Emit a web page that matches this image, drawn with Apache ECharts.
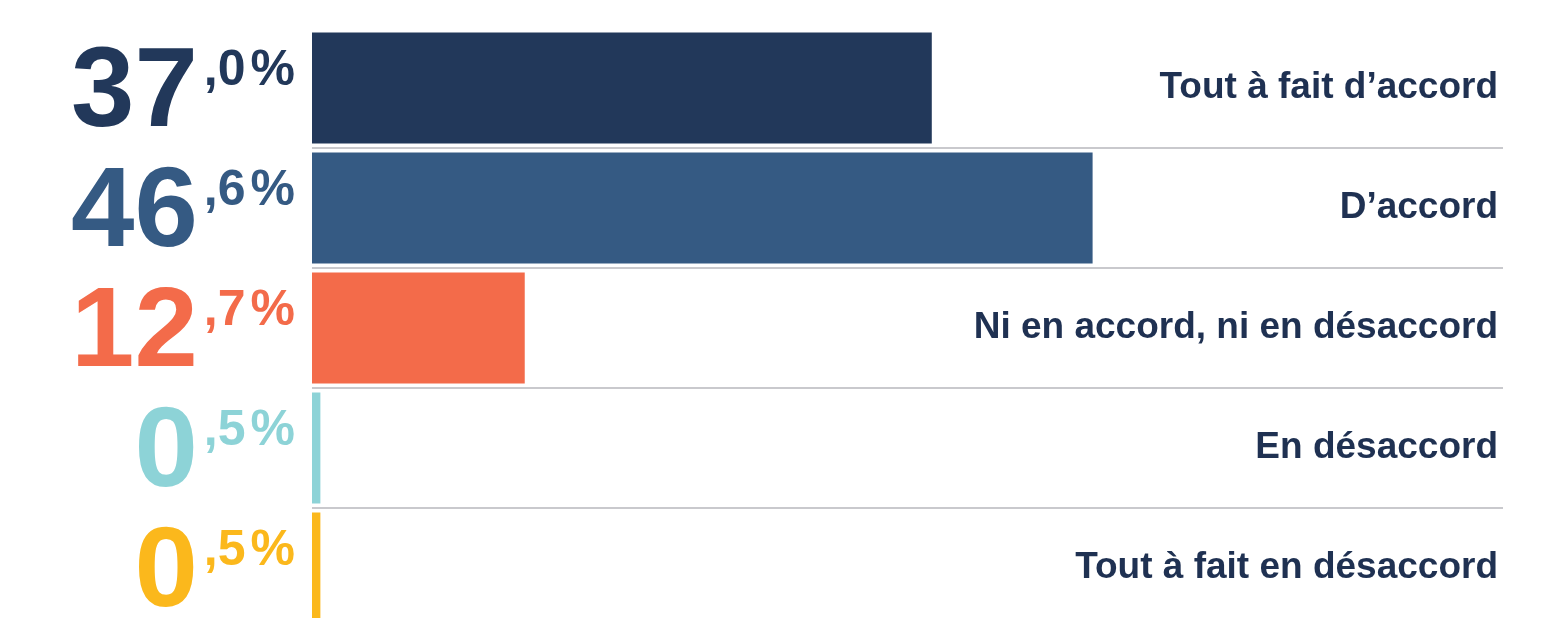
<!DOCTYPE html>
<html>
<head>
<meta charset="utf-8">
<script src="https://cdn.jsdelivr.net/npm/echarts@6/dist/echarts.min.js"></script>
<style>
html, body {
  margin: 0;
  padding: 0;
  background: #ffffff;
}
#chart {
  width: 1557px;
  height: 618px;
}
</style>
</head>
<body>
<div id="chart"></div>
<script>
// réponses, du haut vers le bas
const categories = [
  'Tout à fait d’accord',
  'D’accord',
  'Ni en accord, ni en désaccord',
  'En désaccord',
  'Tout à fait en désaccord'
];
const values = [37.0, 46.6, 12.7, 0.5, 0.5];
const colors = ['#22385a', '#355a83', '#f36b4a', '#8dd3d7', '#fbb81c'];

const font = "'Liberation Sans', Arial, sans-serif";

// styles riches pour le grand nombre + la partie décimale en exposant
const rich = {};
colors.forEach((c, i) => {
  rich['b' + i] = {
    color: c,
    fontFamily: font,
    fontWeight: 'bold',
    fontSize: 114,
    lineHeight: 110,
    padding: [14, 0, 0, 0]
  };
  rich['s' + i] = {
    color: c,
    fontFamily: font,
    fontWeight: 'bold',
    fontSize: 50,
    lineHeight: 62,
    verticalAlign: 'top',
    padding: [13, 0, 0, 6]
  };
  rich['p' + i] = {
    color: c,
    fontFamily: font,
    fontWeight: 'bold',
    fontSize: 50,
    lineHeight: 62,
    verticalAlign: 'top',
    padding: [13, 0, 0, 5]
  };
});

let chart = echarts.init(document.getElementById('chart'));
chart.setOption({
  animation: false,
  grid: {
    left: 312,
    top: 28,
    width: 1191,
    height: 600,
    outerBoundsMode: 'none'
  },
  xAxis: {
    type: 'value',
    min: 0,
    max: 71.1,
    show: false
  },
  yAxis: [{
    type: 'category',
    inverse: true,
    data: categories,
    axisLine: { show: false },
    axisTick: { show: false },
    splitLine: {
      show: true,
      interval: (i) => i > 0,
      lineStyle: { color: '#c9c9cd', width: 2 }
    },
    axisLabel: {
      interval: 0,
      showMinLabel: true,
      showMaxLabel: true,
      hideOverlap: false,
      margin: 17,
      formatter: (value, index) => {
        const parts = values[index].toFixed(1).split('.');
        return '{b' + index + '|' + parts[0] + '}{s' + index + '|,' + parts[1] + '}{p' + index + '|%}';
      },
      rich: rich
    }
  }, {
    type: 'category',
    inverse: true,
    position: 'right',
    data: categories,
    axisLine: { show: false },
    axisTick: { show: false },
    splitLine: { show: false },
    axisLabel: {
      interval: 0,
      inside: true,
      margin: 5,
      padding: [6, 0, 0, 0],
      color: '#1f3152',
      fontFamily: font,
      fontWeight: 'bold',
      fontSize: 37
    }
  }],
  series: [{
    type: 'bar',
    yAxisIndex: 0,
    barWidth: 111,
    data: values.map((v, i) => ({
      value: v,
      itemStyle: { color: colors[i] }
    }))
  }]
});
</script>
</body>
</html>
